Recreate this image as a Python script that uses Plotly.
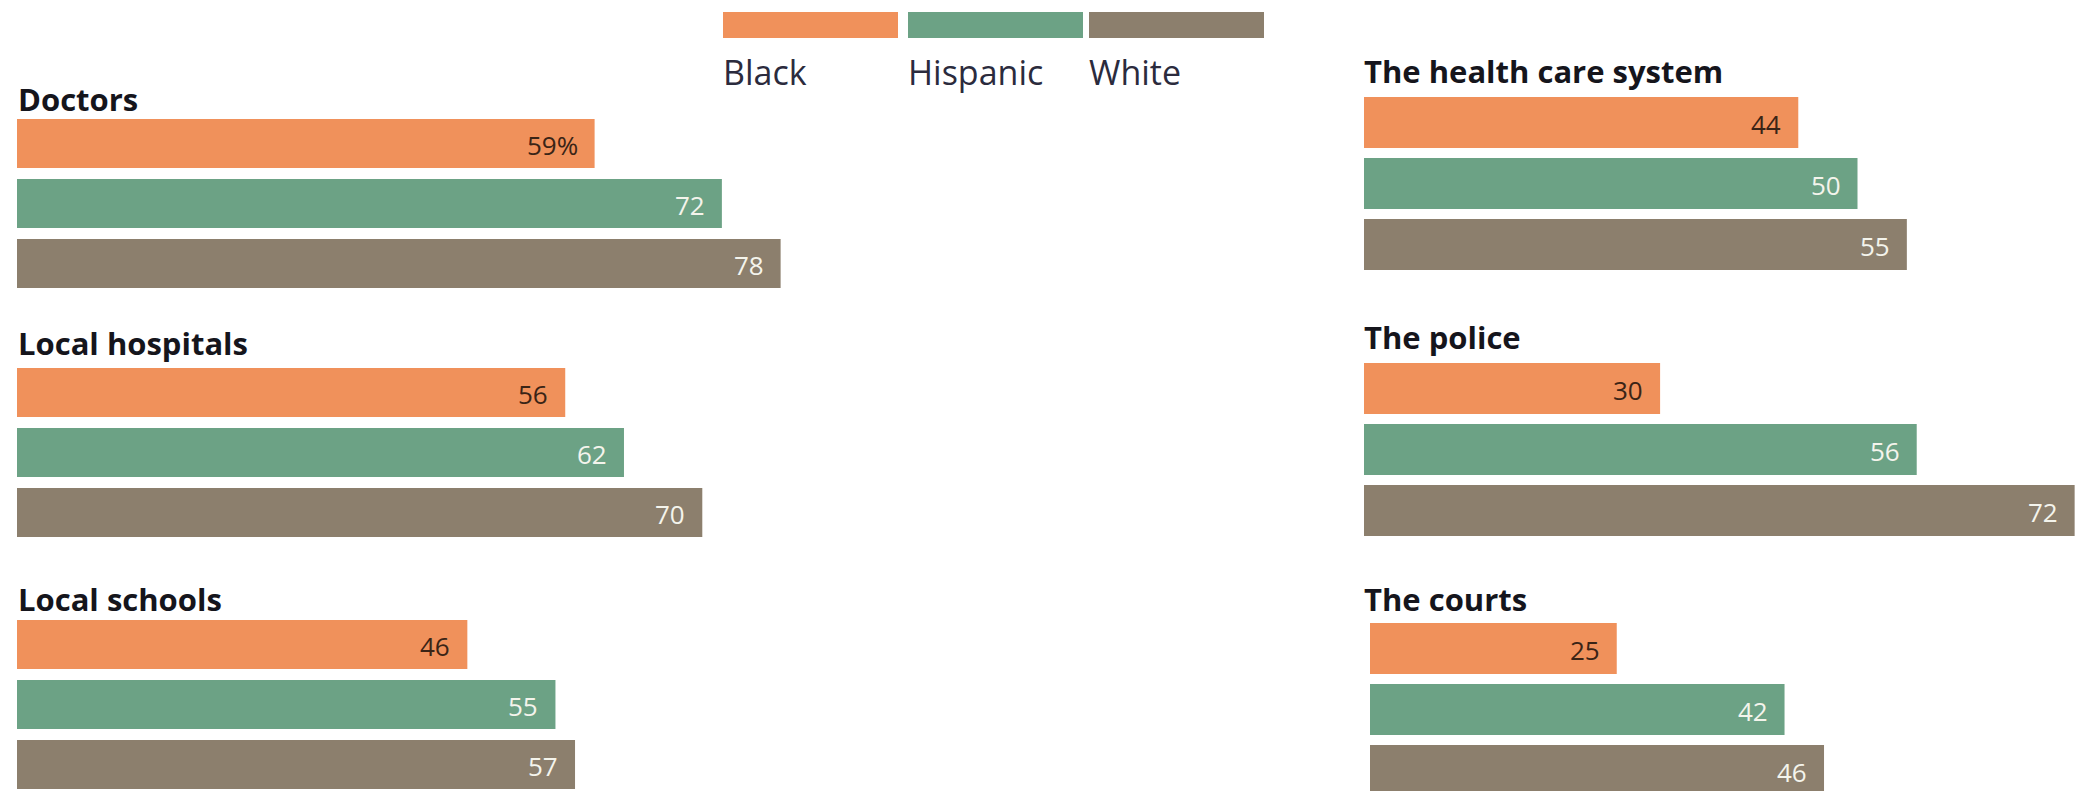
import plotly.graph_objects as go

# ---- data -------------------------------------------------------------
races = ["Black", "Hispanic", "White"]
institutions = ["Doctors", "Local hospitals", "Local schools",
                "The health care system", "The police", "The courts"]
black = [59, 56, 46, 44, 30, 25]
hispanic = [72, 62, 55, 50, 56, 42]
white = [78, 70, 57, 55, 72, 46]
value_labels_black = ["59%", "56", "46", "44", "30", "25"]

colors = {"Black": "#F0915B", "Hispanic": "#6CA285", "White": "#8C7F6D"}
label_colors = {"Black": "#3A2416", "Hispanic": "#F4F4EC", "White": "#F4F4EC"}

# ---- page geometry (pixels) --------------------------------------------
W, H = 2078, 791
FONT = "Open Sans"

# per panel: x of zero, px per unit, top of first bar, bar pitch, bar height, title position
panels = [
    dict(x0=17,   ppu=9.79, top=119, pitch=60, bar=49, title_y=99,  title_x=16),
    dict(x0=17,   ppu=9.79, top=368, pitch=60, bar=49, title_y=343, title_x=16),
    dict(x0=17,   ppu=9.79, top=620, pitch=60, bar=49, title_y=599, title_x=16),
    dict(x0=1364, ppu=9.87, top=97,  pitch=61, bar=51, title_y=71,  title_x=1362),
    dict(x0=1364, ppu=9.87, top=363, pitch=61, bar=51, title_y=337, title_x=1362),
    dict(x0=1370, ppu=9.87, top=623, pitch=61, bar=51, title_y=599, title_x=1362),
]

series = {"Black": black, "Hispanic": hispanic, "White": white}

fig = go.Figure()
layout = {}
annotations = []

for i, (name, p) in enumerate(zip(institutions, panels)):
    k = "" if i == 0 else str(i + 1)
    xa, ya = "x" + k, "y" + k

    # horizontal axis: right-hand panels run out to the page edge
    x_right = W if p["x0"] > W / 2 else p["x0"] + p["ppu"] * 100
    layout["xaxis" + k] = dict(
        domain=[p["x0"] / W, x_right / W],
        range=[0, (x_right - p["x0"]) / p["ppu"]],
        visible=False, fixedrange=True, anchor=ya,
    )

    # vertical axis: one unit per bar pitch, category 0 at the top
    c0 = p["top"] + p["bar"] / 2
    d0 = max(0, p["top"] - (p["pitch"] - p["bar"]) / 2)
    d1 = min(H, d0 + 3 * p["pitch"])
    layout["yaxis" + k] = dict(
        domain=[1 - d1 / H, 1 - d0 / H],
        range=[(d1 - c0) / p["pitch"], (d0 - c0) / p["pitch"]],
        visible=False, fixedrange=True, anchor=xa,
    )

    for j, race in enumerate(races):
        v = series[race][i]
        fig.add_trace(go.Bar(
            x=[v], y=[j], orientation="h", width=p["bar"] / p["pitch"],
            marker=dict(color=colors[race], line=dict(width=0)),
            xaxis=xa, yaxis=ya, showlegend=False, hoverinfo="skip",
        ))
        txt = value_labels_black[i] if race == "Black" else str(v)
        annotations.append(dict(
            x=v, y=j, xref=xa, yref=ya, text=txt, showarrow=False,
            xanchor="right", yanchor="middle", xshift=-15, yshift=-1,
            font=dict(family=FONT, size=26, color=label_colors[race]),
        ))

    annotations.append(dict(
        x=p["title_x"] / W, y=1 - p["title_y"] / H, xref="paper", yref="paper",
        text="<b>%s</b>" % name, showarrow=False, xanchor="left", yanchor="middle",
        font=dict(family=FONT, size=31, color="#15151c"),
    ))

# ---- legend: swatches with labels underneath -----------------------------
shapes = []
legend_x = [723, 908, 1089]
for race, lx in zip(races, legend_x):
    shapes.append(dict(
        type="rect", xref="paper", yref="paper",
        x0=lx / W, x1=(lx + 175) / W, y0=1 - 38 / H, y1=1 - 12 / H,
        fillcolor=colors[race], line=dict(width=0), layer="above",
    ))
    annotations.append(dict(
        x=(lx - 2) / W, y=1 - 72 / H, xref="paper", yref="paper", text=race,
        showarrow=False, xanchor="left", yanchor="middle",
        font=dict(family=FONT, size=34, color="#2b2b3d"),
    ))

fig.update_layout(
    width=W, height=H,
    margin=dict(l=0, r=0, t=0, b=0),
    paper_bgcolor="white", plot_bgcolor="rgba(0,0,0,0)",
    barmode="overlay", showlegend=False,
    annotations=annotations, shapes=shapes,
    **layout,
)

fig.write_html("out.html", config={"displayModeBar": False})
